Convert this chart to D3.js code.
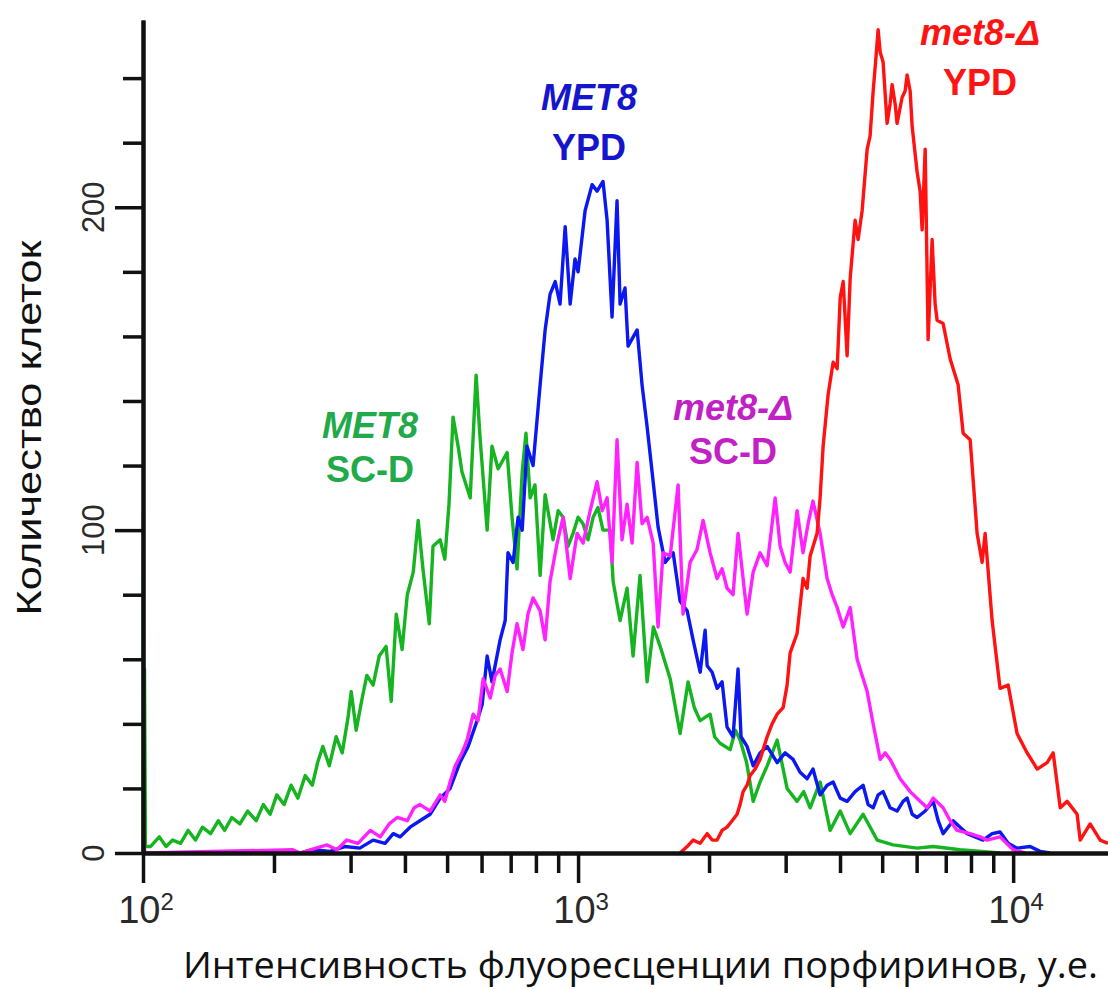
<!DOCTYPE html>
<html>
<head>
<meta charset="utf-8">
<script src="https://cdn.jsdelivr.net/npm/d3@7"></script>
<style>
  body { margin: 0; background: #fff; }
  svg { display: block; }
</style>
</head>
<body>
<svg id="chart" width="1108" height="989"></svg>
<script>
// histogram data: [intensity, number of cells]
var met8ScD = [[100,0],[100.2,105],[100.5,6],[100.8,57],[101.3,2],[104,2],[109,5],[113,2],[117,4],[122,3],[127,7],[132,4],[137,8],[143,6],[149,10],[154,7],[160,11],[167,9],[174,13],[182,10],[189,15],[196,12],[203,18],[211,15],[219,21],[227,17],[236,24],[245,21],[252,28],[259,33],[268,27],[278,36],[287,31],[296,42],[301,50],[309,38],[319,48],[327,55],[338,52],[349,61],[362,64],[372,47],[382,74],[394,63],[405,80],[418,87],[429,103],[440,88],[455,71],[464,95],[482,97],[494,91],[505,108],[516,135],[530,126],[541,118],[565,110],[583,148],[595,129],[618,100],[634,126],[655,119],[687,124],[705,104],[724,88],[744,118],[759,130],[776,110],[796,114],[818,86],[840,111],[876,97],[900,106],[924,104],[948,95],[974,99],[1000,104],[1027,102],[1054,97],[1083,104],[1111,107],[1141,100],[1185,100],[1204,84],[1249,72],[1296,82],[1338,61],[1388,86],[1441,53],[1490,70],[1544,64],[1628,54],[1716,37],[1790,53],[1850,45],[1908,41],[2011,43],[2060,36],[2120,34],[2236,32],[2300,38],[2357,35],[2440,28],[2526,16],[2620,22],[2720,27],[2868,35],[3023,20],[3187,16],[3300,19],[3415,14],[3600,22],[3796,7],[4004,13],[4221,6],[4520,12],[4870,4],[5298,2.5],[6015,1.5],[6550,2],[7550,1],[9330,0]];

var met8Ypd = [[230,0],[246,1],[269,0.5],[291,2],[315,1.5],[338,4],[360,3],[376,6],[390,5],[411,8],[433,10],[457,12],[482,17],[508,20],[535,28],[559,33],[586,41],[602,46],[618,61],[634,53],[662,66],[680,72],[690,93],[709,90],[728,104],[744,100],[763,126],[788,120],[818,145],[840,162],[862,173],[886,177],[909,170],[934,194],[959,170],[984,184],[1000,180],[1038,199],[1077,207],[1106,205],[1141,208],[1166,196],[1197,166],[1229,202],[1249,170],[1282,175],[1303,157],[1367,162],[1403,145],[1441,132],[1488,115],[1527,101],[1585,90],[1654,93],[1716,78],[1781,75],[1838,66],[1908,56],[1959,69],[1980,58],[2033,56],[2087,51],[2143,53],[2200,39],[2271,36],[2332,57],[2369,36],[2446,33],[2526,27],[2620,31],[2720,33],[2868,28],[2991,31],[3120,29],[3238,25],[3361,23],[3467,26],[3600,18],[3736,21],[3857,22],[4004,17],[4153,16],[4333,19],[4520,21],[4642,15],[4767,14],[4894,18],[5024,19],[5214,14],[5410,13],[5585,16],[5705,17],[5860,12],[6015,11],[6278,13],[6550,16],[6725,10],[6902,6],[7280,10],[7550,8],[7840,6],[8175,5],[8530,4],[8947,6],[9330,6.5],[9740,3],[10210,1.5],[10940,2],[11530,0.5],[12160,0]];

var met8dScD = [[100,0],[100.4,4],[101,0],[221,1],[230,0],[242,1],[265,2.5],[279,1],[294,4],[312,3],[333,7],[351,5],[368,9],[384,11],[405,10],[420,14],[433,15],[457,13],[482,18],[494,16],[508,22],[522,27],[541,31],[556,35],[574,43],[589,41],[605,54],[628,48],[645,55],[662,57],[687,50],[705,62],[724,71],[747,63],[767,74],[788,79],[818,75],[840,66],[862,84],[895,96],[924,104],[959,85],[995,99],[1027,96],[1066,106],[1106,115],[1136,106],[1166,110],[1197,90],[1229,128],[1262,97],[1296,108],[1331,96],[1367,121],[1403,102],[1441,104],[1488,96],[1527,70],[1568,93],[1628,92],[1698,114],[1743,74],[1809,90],[1877,94],[1938,103],[2011,93],[2087,85],[2143,88],[2200,82],[2271,80],[2332,99],[2395,85],[2446,74],[2526,87],[2620,93],[2720,89],[2838,110],[2914,95],[2991,90],[3072,87],[3187,106],[3289,93],[3378,102],[3467,109],[3600,99],[3736,85],[3837,80],[3940,76],[4068,70],[4221,76],[4379,60],[4497,55],[4618,50],[4767,40],[4948,29],[5078,31],[5214,29],[5499,23],[5798,19],[6112,16],[6343,14],[6550,17],[6902,14],[7166,10],[7435,7],[7965,6],[8397,5],[8710,4],[9330,5],[10000,1],[10660,0]];

var met8dYpd = [[1716,0],[1781,2],[1838,4],[1908,3],[1980,6],[2033,4],[2087,4],[2143,7],[2200,8],[2260,10],[2320,12],[2357,15],[2395,19],[2446,21],[2486,24],[2553,26],[2620,29],[2720,36],[2792,40],[2868,43],[2960,45],[3023,52],[3072,62],[3187,68],[3289,85],[3361,82],[3415,92],[3543,99],[3600,110],[3658,126],[3756,142],[3857,152],[3940,150],[4004,172],[4068,177],[4153,154],[4221,178],[4333,196],[4402,190],[4497,199],[4618,218],[4690,222],[4767,236],[4842,247],[4894,255],[4948,248],[5024,245],[5132,226],[5214,232],[5270,238],[5355,232],[5410,226],[5556,234],[5645,236],[5705,241],[5798,236],[5860,225],[6015,211],[6112,205],[6177,193],[6278,218],[6376,159],[6513,190],[6617,170],[6687,165],[6902,164],[7166,153],[7474,145],[7675,130],[7965,128],[8264,99],[8486,90],[8622,99],[8947,72],[9090,64],[9330,51],[9740,52],[10210,37],[10770,31],[11360,26],[11970,28],[12360,31],[12830,14],[13310,16],[14030,12],[14260,4],[15030,9],[15850,4],[16520,3]];

var xMajor = [100, 1000, 10000];
var xMinor = [200, 300, 400, 500, 600, 700, 800, 900, 2000, 3000, 4000, 5000, 6000, 7000, 8000, 9000];
var yMinor = [20, 40, 60, 80, 120, 140, 160, 180, 220, 240];
var yMajor = [0, 100, 200];

var series = [
    {data: met8ScD, color: "#16b420"},
    {data: met8Ypd, color: "#0b18f0"},
    {data: met8dScD, color: "#ff22ff"},
    {data: met8dYpd, color: "#ff1212"}
];

var labels = [
    {l1: "MET8", l2: "SC-D", x: 370, y: 438, color: "#22aa4a"},
    {l1: "MET8", l2: "YPD", x: 589, y: 110, color: "#1515cc"},
    {l1: "met8-\u0394", l2: "SC-D", x: 733, y: 420, color: "#c21fc4"},
    {l1: "met8-\u0394", l2: "YPD", x: 980, y: 45, color: "#ff1414"}
];

var svg = d3.select("#chart");
var x = d3.scaleLog().domain([100, 16520]).range([143, 1108]);
var y = d3.scaleLinear().domain([0, 258]).range([853, 20]);

// curves
var line = d3.line()
    .x(function (d) { return x(d[0]); })
    .y(function (d) { return y(d[1]); });

svg.selectAll(".curve")
    .data(series)
    .join("path")
    .attr("class", "curve")
    .attr("d", function (d) { return line(d.data); })
    .attr("fill", "none")
    .attr("stroke", function (d) { return d.color; })
    .attr("stroke-width", 3.4)
    .attr("stroke-linejoin", "round");

// x axis
var gx1 = svg.append("g").attr("transform", "translate(0,853)")
    .call(d3.axisBottom(x).tickValues(xMinor).tickSize(20).tickSizeOuter(0).tickFormat(""));
var gx2 = svg.append("g").attr("transform", "translate(0,853)")
    .call(d3.axisBottom(x).tickValues(xMajor).tickSize(30).tickSizeOuter(0).tickFormat(""));

// y axis
var gy1 = svg.append("g").attr("transform", "translate(143,0)")
    .call(d3.axisLeft(y).tickValues(yMinor).tickSize(20).tickSizeOuter(0).tickFormat(""));
var gy2 = svg.append("g").attr("transform", "translate(143,0)")
    .call(d3.axisLeft(y).tickValues(yMajor).tickSize(28).tickSizeOuter(0).tickFormat(""));

[gx1, gx2, gy1, gy2].forEach(function (g) {
    g.selectAll("line").attr("stroke", "#111").attr("stroke-width", 3.5);
    g.selectAll("path").attr("stroke", "#111").attr("stroke-width", 4);
});

// x tick labels 10^n
var xl = svg.selectAll(".xlab")
    .data(xMajor)
    .join("text")
    .attr("class", "xlab")
    .attr("x", function (d) { return x(d) + 3; })
    .attr("y", 923)
    .attr("text-anchor", "middle")
    .attr("font-family", "Liberation Sans, Arial, sans-serif")
    .attr("font-size", 38)
    .attr("fill", "#2a2a2a");
xl.append("tspan").text("10");
xl.append("tspan").attr("dy", -13).attr("font-size", 24)
    .text(function (d) { return Math.round(Math.log10(d)); });

// y tick labels (rotated)
svg.selectAll(".ylab")
    .data(yMajor)
    .join("text")
    .attr("class", "ylab")
    .attr("transform", function (d) { return "translate(104," + y(d) + ") rotate(-90)"; })
    .attr("text-anchor", "middle")
    .attr("font-family", "Liberation Sans, Arial, sans-serif")
    .attr("font-size", 31)
    .attr("fill", "#2a2a2a")
    .text(function (d) { return d; });

// axis titles
svg.append("text")
    .attr("transform", "translate(41,428) rotate(-90)")
    .attr("text-anchor", "middle")
    .attr("font-family", "Liberation Sans, Arial, sans-serif")
    .attr("font-size", 35)
    .attr("textLength", 375)
    .attr("lengthAdjust", "spacingAndGlyphs")
    .attr("fill", "#111")
    .text("Количество клеток");

svg.append("text")
    .attr("x", 183)
    .attr("y", 978)
    .attr("font-family", "Open Sans, sans-serif")
    .attr("font-size", 36)
    .attr("textLength", 915)
    .attr("lengthAdjust", "spacingAndGlyphs")
    .attr("fill", "#111")
    .text("Интенсивность флуоресценции порфиринов, у.е.");

// curve labels
labels.forEach(function (lb) {
    var t = svg.append("g")
        .attr("font-family", "Liberation Sans, Arial, sans-serif")
        .attr("font-weight", "bold")
        .attr("font-size", 36)
        .attr("text-anchor", "middle")
        .attr("fill", lb.color);
    t.append("text").attr("x", lb.x).attr("y", lb.y)
        .attr("font-style", "italic").text(lb.l1);
    t.append("text").attr("x", lb.x).attr("y", lb.y + (lb.l2 === "YPD" ? 50 : 44))
        .text(lb.l2);
});
</script>
</body>
</html>
